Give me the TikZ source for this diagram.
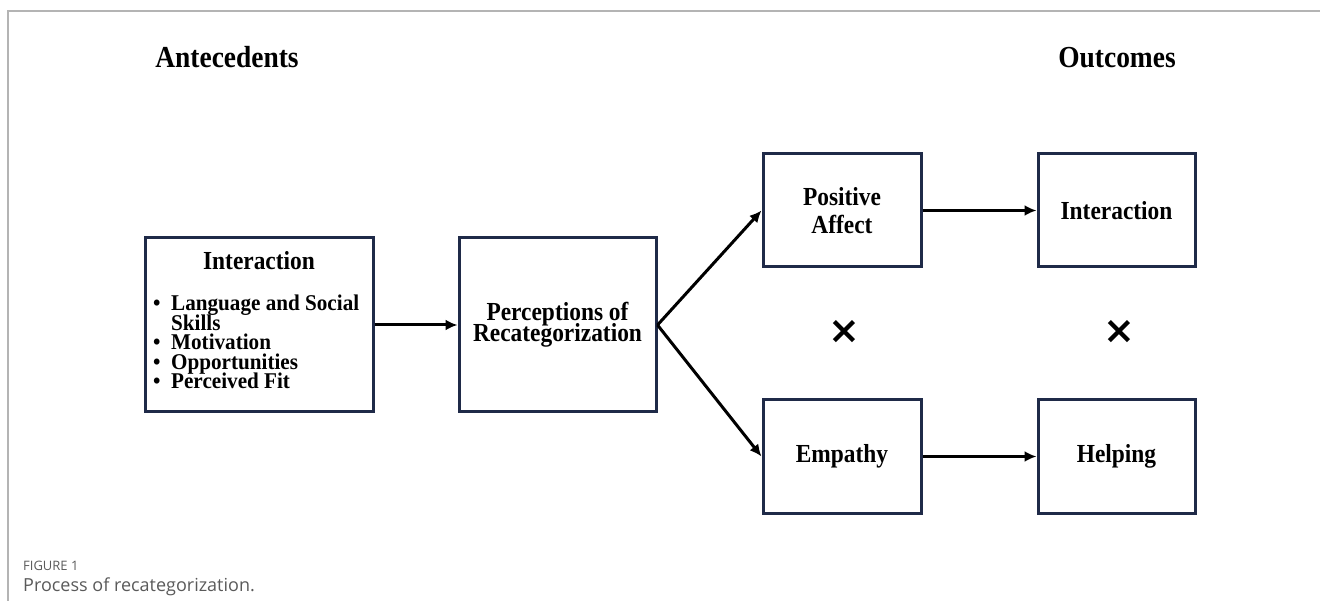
\documentclass[tikz,border=0pt]{standalone}
\usepackage{fontspec}
\newfontfamily\tnr{Liberation Serif}[FakeStretch=0.9]
\newfontfamily\tnrlist{Liberation Serif}[FakeStretch=0.94]
\newfontfamily\capfont{Open Sans}
\newfontfamily\symfont{DejaVu Sans}
\usetikzlibrary{arrows.meta}
\definecolor{boxcol}{HTML}{1F2A48}
\definecolor{framecol}{HTML}{B4B4B4}
\definecolor{capcol}{HTML}{5A5A5A}
\newcommand\tightls{\lineskiplimit=-100pt\relax}
\newcommand\boxfont{\tnr\bfseries\fontsize{26}{28}\selectfont\tightls}
\newcommand\percfont{\tnr\bfseries\fontsize{26}{21}\selectfont\tightls}
\begin{document}
\begin{tikzpicture}[x=1pt,y=-1pt,
  boxnode/.style={draw=boxcol, line width=3pt, rectangle, inner sep=0pt, align=center,
    font=\boxfont},
  boxtext/.style={inner sep=0pt, font=\boxfont},
  listtext/.style={inner sep=0pt, font=\tnrlist\bfseries\fontsize{22.5}{19.5}\selectfont},
  heading/.style={inner sep=0pt, anchor=base, font=\tnr\bfseries\fontsize{30.5}{31}\selectfont},
  arr/.style={line width=3pt, -{Latex[length=12pt,width=11pt]}},
  mult/.style={inner sep=0pt, font=\symfont\bfseries\fontsize{38}{38}\selectfont},
  capsmall/.style={inner sep=0pt, anchor=base west, text=capcol, font=\capfont\fontsize{13}{13}\selectfont},
  caplarge/.style={inner sep=0pt, anchor=base west, text=capcol, font=\capfont\fontsize{18}{18}\selectfont}
]
\useasboundingbox (0,0) rectangle (1320,601);
% frame
\coordinate (fbl) at (8,601);
\coordinate (ftl) at (8,11);
\coordinate (ftr) at (1320,11);
\draw[framecol, line width=1.5pt] (fbl) -- (ftl) -- (ftr);

% headings
\node[heading] (hante) at (227,68) {Antecedents};
\node[heading] (hout) at (1117,68) {Outcomes};

% boxes
\node[boxnode, minimum width=228pt, minimum height=174pt] (ante) at (259,325) {};
\node[boxtext, anchor=base] (anteh) at (259,270) {Interaction};
\node[listtext, anchor=base west] (antel) at (153,311) {%
  \vtop{\baselineskip=19.5pt\tightls
  \hbox{\makebox[18pt][l]{\textbullet}Language and Social}
  \hbox{\hspace*{18pt}Skills}
  \hbox{\makebox[18pt][l]{\textbullet}Motivation}
  \hbox{\makebox[18pt][l]{\textbullet}Opportunities}
  \hbox{\makebox[18pt][l]{\textbullet}Perceived Fit}}};

\node[boxnode, minimum width=197pt, minimum height=174pt, font=\percfont] (perc) at (557.5,325) {Perceptions of\\Recategorization};

\node[boxnode, minimum width=158pt, minimum height=113pt] (pa) at (842,210.5) {Positive\\Affect};
\node[boxnode, minimum width=157pt, minimum height=113pt] (oi) at (1116.5,210.5) {Interaction};
\node[boxnode, minimum width=158pt, minimum height=113pt] (emp) at (842,456.5) {Empathy};
\node[boxnode, minimum width=157pt, minimum height=113pt] (help) at (1116.5,456.5) {Helping};

% multiplication signs
\node[mult] (x1) at (844,332) {×};
\node[mult] (x2) at (1119,332) {×};

% arrows
\draw[arr] (ante.east) -- (perc.west);
\draw[arr] (perc.east) -- (pa.west);
\draw[arr] (perc.east) -- (emp.west);
\draw[arr] (pa.east) -- (oi.west);
\draw[arr] (emp.east) -- (help.west);

% caption
\node[capsmall] (figlab) at (23,570) {FIGURE 1};
\node[caplarge] (figcap) at (23,591) {Process of recategorization.};
\end{tikzpicture}
\end{document}
